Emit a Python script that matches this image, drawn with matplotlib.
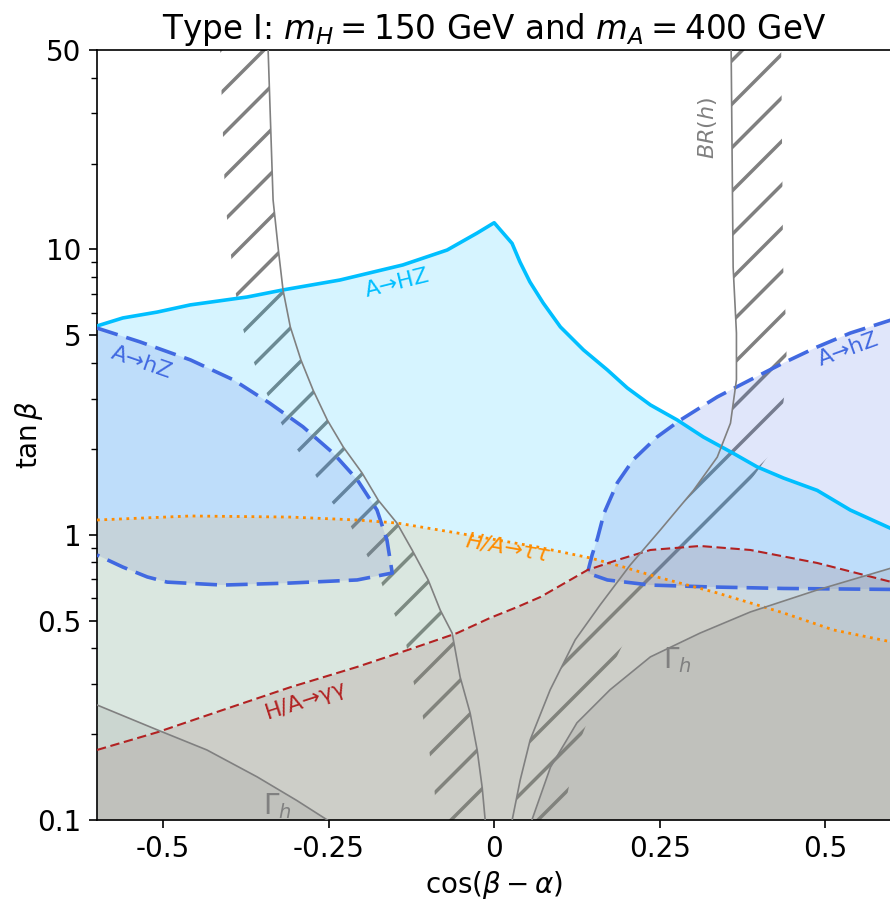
import numpy as np
import matplotlib
matplotlib.use("Agg")
import matplotlib.pyplot as plt
from matplotlib.patches import Polygon
from matplotlib.collections import LineCollection
from matplotlib.ticker import FixedLocator, FixedFormatter, NullFormatter

# -----------------------------------------------
# curvas: x = cos(beta-alpha), y = tan(beta)
# -----------------------------------------------

# A -> HZ (excluido por debajo)
hz_x = [-0.6, -0.561, -0.509, -0.459, -0.373, -0.319, -0.233, -0.138, -0.071, -0.026,
        0.0, 0.027, 0.039, 0.054, 0.074, 0.100, 0.135, 0.171, 0.201, 0.236, 0.277,
        0.316, 0.361, 0.397, 0.437, 0.488, 0.538, 0.6]
hz_y = [5.39, 5.75, 6.03, 6.39, 6.81, 7.21, 7.81, 8.82, 9.95, 11.4,
        12.4, 10.5, 9.03, 7.69, 6.49, 5.35, 4.44, 3.78, 3.27, 2.85, 2.52,
        2.20, 1.93, 1.73, 1.58, 1.43, 1.22, 1.05]

# A -> hZ, isla izquierda (borde superior y luego inferior)
hzl_top_x = [-0.6, -0.535, -0.459, -0.394, -0.339, -0.289, -0.243, -0.207, -0.177, -0.162, -0.154]
hzl_top_y = [5.30, 4.74, 4.10, 3.49, 2.89, 2.39, 1.93, 1.56, 1.22, 0.958, 0.734]
hzl_bot_x = [-0.154, -0.207, -0.308, -0.41, -0.494, -0.524, -0.561, -0.6]
hzl_bot_y = [0.734, 0.694, 0.677, 0.666, 0.682, 0.711, 0.770, 0.849]

# A -> hZ, isla derecha
hzr_top_x = [0.141, 0.148, 0.156, 0.166, 0.186, 0.210, 0.246, 0.281, 0.337, 0.387, 0.437,
             0.488, 0.538, 0.6]
hzr_top_y = [0.734, 0.85, 0.97, 1.19, 1.52, 1.83, 2.20, 2.52, 3.04, 3.49, 4.00,
             4.55, 5.09, 5.66]
hzr_bot_x = [0.141, 0.171, 0.236, 0.326, 0.437, 0.6]
hzr_bot_y = [0.734, 0.694, 0.666, 0.656, 0.648, 0.643]

# H/A -> tau tau
tt_x = [-0.6, -0.459, -0.308, -0.207, -0.147, -0.056, 0.065, 0.145, 0.195, 0.246,
        0.337, 0.437, 0.512, 0.6]
tt_y = [1.126, 1.163, 1.153, 1.126, 1.099, 1.014, 0.906, 0.829, 0.771, 0.711,
        0.625, 0.532, 0.464, 0.421]

# H/A -> gamma gamma
gg_x = [-0.6, -0.509, -0.41, -0.308, -0.207, -0.131, -0.056, -0.006, 0.035, 0.070,
        0.141, 0.186, 0.236, 0.311, 0.387, 0.488, 0.6]
gg_y = [0.176, 0.203, 0.243, 0.292, 0.344, 0.394, 0.452, 0.511, 0.558, 0.605,
        0.752, 0.815, 0.884, 0.913, 0.884, 0.796, 0.683]

# anchura Gamma_h
wl_x = [-0.6, -0.509, -0.434, -0.358, -0.298, -0.252]
wl_y = [0.253, 0.207, 0.176, 0.1416, 0.117, 0.1]
wr_x = [0.057, 0.085, 0.125, 0.175, 0.236, 0.311, 0.387, 0.488, 0.6]
wr_y = [0.1, 0.153, 0.219, 0.286, 0.373, 0.452, 0.536, 0.640, 0.764]

# BR(h)
bl_x = [-0.3415, -0.334, -0.326, -0.319, -0.308, -0.292, -0.2735, -0.252, -0.228, -0.1995,
        -0.175, -0.147, -0.124, -0.0997, -0.0816, -0.0635, -0.0514, -0.0363, -0.0257,
        -0.0181, -0.0136]
bl_y = [50, 14.9, 9.95, 7.21, 5.35, 4.10, 3.21, 2.52, 2.03, 1.645,
        1.32, 1.099, 0.884, 0.694, 0.545, 0.452, 0.317, 0.237, 0.176,
        0.130, 0.1]
br_x = [0.358, 0.361, 0.366, 0.366, 0.357, 0.337, 0.301, 0.251, 0.2055, 0.160,
        0.1224, 0.0846, 0.0544, 0.0393, 0.0272]
br_y = [50, 8.67, 5.09, 3.49, 2.46, 1.87, 1.43, 1.039, 0.783, 0.567,
        0.428, 0.286, 0.191, 0.138, 0.1]

xticks = [-0.5, -0.25, 0, 0.25, 0.5]
xtick_labels = ['-0.5', '-0.25', '0', '0.25', '0.5']
yticks = [0.1, 0.5, 1, 5, 10, 50]
ytick_labels = ['0.1', '0.5', '1', '5', '10', '50']
yminor = [0.2, 0.3, 0.4, 0.6, 0.7, 0.8, 0.9, 2, 3, 4, 6, 7, 8, 9, 20, 30, 40]

# -----------------------------------------------
# figura
# -----------------------------------------------
pos = [0.109, 0.0909, 0.8925, 0.8537]
fig = plt.figure(figsize=(8.9, 9.02), dpi=100)
ax = fig.add_axes(pos)
ax.set_yscale('log')
ax.set_xlim(-0.6, 0.6)
ax.set_ylim(0.1, 50)

a = 0.16
# rellenos
ax.fill_between(hz_x, hz_y, 0.1, color='deepskyblue', alpha=a, lw=0, zorder=2)
ax.add_patch(Polygon(np.column_stack([hzl_top_x + hzl_bot_x[1:], hzl_top_y + hzl_bot_y[1:]]),
                     closed=True, fc='royalblue', alpha=a, lw=0, zorder=2))
ax.add_patch(Polygon(np.column_stack([hzr_top_x + hzr_bot_x[::-1][:-1], hzr_top_y + hzr_bot_y[::-1][:-1]]),
                     closed=True, fc='royalblue', alpha=a, lw=0, zorder=2))
ax.fill_between(tt_x, tt_y, 0.1, color='darkorange', alpha=0.12, lw=0, zorder=2)
ax.fill_between(gg_x, gg_y, 0.1, color='#9a6a6a', alpha=0.2, lw=0, zorder=2)
ax.fill_between(wl_x, wl_y, 0.1, color='gray', alpha=a, lw=0, zorder=2)
ax.fill_between(wr_x, wr_y, 0.1, color='gray', alpha=a, lw=0, zorder=2)

# rayado BR(h): franjas junto a cada curva
W = fig.get_figwidth() * fig.dpi * pos[2]
H = fig.get_figheight() * fig.dpi * pos[3]
paso = 43.5
segs = []
for c in np.arange(6 - paso * 20, W + H, paso):
    segs.append([((c - 20) / W, -20 / H), ((c + H + 20) / W, (H + 20) / H)])

d_izq = 0.0725
d_der = 0.0756
banda_izq = Polygon(np.column_stack([bl_x + [x - d_izq for x in bl_x[::-1]], bl_y + bl_y[::-1]]),
                    closed=True, transform=ax.transData)
banda_der = Polygon(np.column_stack([br_x + [x + d_der for x in br_x[::-1]], br_y + br_y[::-1]]),
                    closed=True, transform=ax.transData)
for banda in (banda_izq, banda_der):
    lc = LineCollection(segs, transform=ax.transAxes, colors='gray', linewidths=2.5, zorder=1)
    lc.set_clip_path(banda)
    ax.add_collection(lc)

# lineas
ax.plot(hz_x, hz_y, color='deepskyblue', lw=2.6, zorder=3)
ax.plot(hzl_top_x + hzl_bot_x[1:], hzl_top_y + hzl_bot_y[1:], color='royalblue',
        lw=2.6, dashes=(6, 2.5), zorder=3)
ax.plot(hzr_bot_x[::-1] + hzr_top_x[1:], hzr_bot_y[::-1] + hzr_top_y[1:], color='royalblue',
        lw=2.6, dashes=(6, 2.5), zorder=3)
ax.plot(tt_x, tt_y, color='darkorange', lw=2, linestyle=':', zorder=3)
ax.plot(gg_x, gg_y, color='firebrick', lw=1.5, dashes=(4.5, 2.2), zorder=3)
ax.plot(wl_x, wl_y, color='gray', lw=1.2, zorder=3)
ax.plot(wr_x, wr_y, color='gray', lw=1.2, zorder=3)
ax.plot(bl_x, bl_y, color='gray', lw=1.2, zorder=3)
ax.plot(br_x, br_y, color='gray', lw=1.2, zorder=3)

# etiquetas
ax.text(-0.147, 7.6, 'A→HZ', color='deepskyblue', fontsize=16, rotation=14,
        ha='center', va='center', zorder=4)
ax.text(-0.532, 4.0, 'A→hZ', color='royalblue', fontsize=16, rotation=-19,
        ha='center', va='center', zorder=4)
ax.text(0.535, 4.44, 'A→hZ', color='royalblue', fontsize=16, rotation=20,
        ha='center', va='center', zorder=4)
ax.text(0.02, 0.90, 'H/A→ττ', color='darkorange', fontsize=16, rotation=-10,
        style='italic', ha='center', va='center', zorder=4)
ax.text(-0.284, 0.263, 'H/A→γγ', color='firebrick', fontsize=16, rotation=18,
        ha='center', va='center', zorder=4)
ax.text(-0.328, 0.112, r'$\Gamma_h$', color='gray', fontsize=20,
        ha='center', va='center', zorder=4)
ax.text(0.277, 0.364, r'$\Gamma_h$', color='gray', fontsize=20,
        ha='center', va='center', zorder=4)
ax.text(0.322, 26.6, r'$BR(h)$', color='gray', fontsize=16, rotation=90,
        ha='center', va='center', zorder=4)

# ejes
ax.xaxis.set_major_locator(FixedLocator(xticks))
ax.xaxis.set_major_formatter(FixedFormatter(xtick_labels))
ax.yaxis.set_major_locator(FixedLocator(yticks))
ax.yaxis.set_major_formatter(FixedFormatter(ytick_labels))
ax.yaxis.set_minor_locator(FixedLocator(yminor))
ax.yaxis.set_minor_formatter(NullFormatter())
ax.tick_params(which='major', length=6, width=1.2, labelsize=20, pad=5)
ax.tick_params(which='minor', length=4, width=1)
for s in ax.spines.values():
    s.set_linewidth(1.2)

ax.set_xlabel(r'$\cos(\beta-\alpha)$', fontsize=20, labelpad=4)
ax.set_ylabel(r'$\tan\beta$', fontsize=20)
ax.yaxis.set_label_coords(-0.066, 0.5)
ax.set_title(r'Type I: $m_H = 150$ GeV and $m_A = 400$ GeV', fontsize=23.5, pad=8)

fig.savefig('out.png', dpi=100)
